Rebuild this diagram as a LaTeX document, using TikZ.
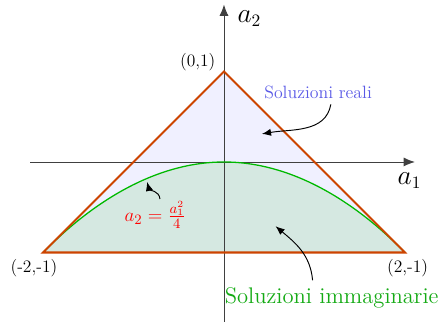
\documentclass[tikz,border=0pt]{standalone}
\usetikzlibrary{arrows.meta}
\begin{document}
\begin{tikzpicture}[x=2cm,y=2cm,
  edge/.style={draw={rgb,255:red,204;green,68;blue,0},line width=1.3pt,line join=miter},
  parab/.style={draw={rgb,255:red,0;green,185;blue,0},line width=0.8pt},
  axis/.style={draw=black!75,-{Latex[length=2.5mm,width=2mm]},line width=0.6pt},
  pointer/.style={draw=black,-{Latex[length=2mm,width=1.6mm]},line width=0.6pt},
  axlbl/.style={font=\fontsize{16}{19}\selectfont},
  ptlbl/.style={font=\fontsize{11}{13}\selectfont}]
\useasboundingbox (-2.475,-1.768) rectangle (2.365,1.79);
% coordinates
\coordinate (L) at (-2,-1);
\coordinate (T) at (0,1);
\coordinate (R) at (2,-1);
\coordinate (O) at (0,0);
% fills
\fill[fill={rgb,255:red,240;green,240;blue,255}] (L) -- (T) -- (R) -- cycle;
\fill[fill={rgb,255:red,213;green,232;blue,225}] (L) parabola bend (O) (R) -- cycle;
% axes
\coordinate (xs) at (-2.14,0);
\coordinate (xe) at (2.11,0);
\coordinate (ys) at (0,-1.77);
\coordinate (ye) at (0,1.74);
\draw[axis] (xs) -- (xe);
\draw[axis] (ys) -- (ye);
% parabola and triangle
\draw[parab] (L) parabola bend (O) (R);
\draw[edge] (L) -- (T) -- (R) -- cycle;
% labels
\node[axlbl] (a2) at (0.28,1.58) {$a_2$};
\node[axlbl] (a1) at (2.05,-0.21) {$a_1$};
\node[ptlbl] (p0) at (-0.29,1.1) {(0,1)};
\node[ptlbl] (pL) at (-2.1,-1.17) {(-2,-1)};
\node[ptlbl] (pR) at (2.03,-1.17) {(2,-1)};
\node[font=\fontsize{11.2}{13}\selectfont,text={rgb,255:red,90;green,90;blue,230}] (reali) at (1.04,0.77) {Soluzioni reali};
\node[font=\fontsize{14.2}{17}\selectfont,text={rgb,255:red,20;green,170;blue,20}] (imm) at (1.19,-1.5) {Soluzioni immaginarie};
\node[font=\fontsize{13}{16}\selectfont,text=red,inner sep=1pt] (eq) at (-0.76,-0.58) {$a_2=\frac{a_1^2}{4}$};
% pointers
\coordinate (reT) at (0.42,0.31);
\coordinate (imT) at (0.57,-0.71);
\coordinate (eqT) at (-0.85,-0.22);
\draw[pointer] ([xshift=8pt]reali.south) to[out=-100,in=10] (reT);
\draw[pointer] ([xshift=-12pt,yshift=1pt]imm.north) to[out=95,in=-40] (imT);
\draw[pointer] ([xshift=3pt]eq.north) to[out=95,in=-75] (eqT);
\end{tikzpicture}
\end{document}
